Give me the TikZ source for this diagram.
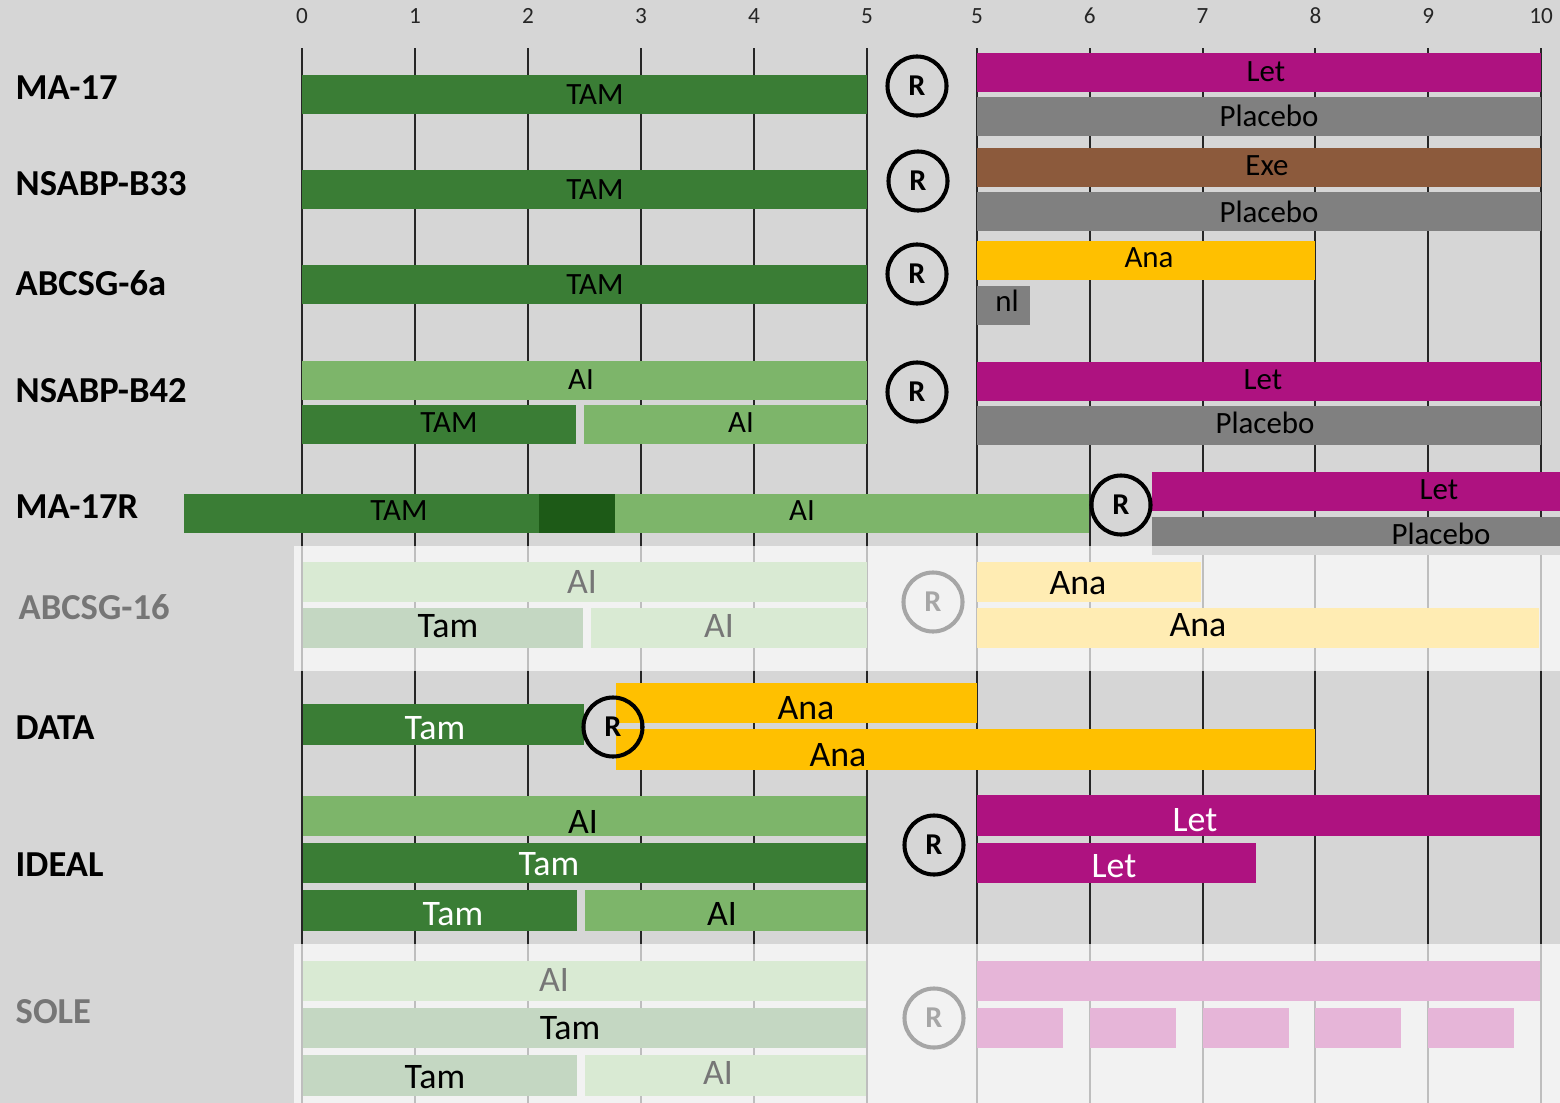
\documentclass[tikz,border=0pt]{standalone}
\usepackage{fontspec}
\setmainfont{Carlito}
\usepackage{tikz}
\definecolor{panelgrey}{HTML}{D6D6D6}
\definecolor{gridline}{HTML}{262626}
\definecolor{tamgreen}{HTML}{3A7D35}
\definecolor{aigreen}{HTML}{7DB56A}
\definecolor{overlapgreen}{HTML}{1D5A17}
\definecolor{letpink}{HTML}{AE1280}
\definecolor{placebogrey}{HTML}{808080}
\definecolor{exebrown}{HTML}{8C5A3C}
\definecolor{anayellow}{HTML}{FFC000}
\definecolor{fadeai}{HTML}{D9EAD3}
\definecolor{fadetam}{HTML}{C4D7C2}
\definecolor{fadeana}{HTML}{FFECB3}
\definecolor{fadelet}{HTML}{E6B5D8}
\definecolor{fadetext}{HTML}{767676}
\definecolor{fadering}{HTML}{A6A6A6}
\tikzset{trial/.style = {anchor = west, inner sep = 0pt, font = \bfseries\fontsize{10.4}{12}\selectfont}}
\tikzset{small/.style = {inner sep = 0pt, font = \fontsize{8.8}{10}\selectfont}}
\tikzset{big/.style = {inner sep = 0pt, font = \fontsize{10.2}{12}\selectfont}}
\tikzset{tick/.style = {inner sep = 0pt, text = gridline, font = \fontsize{6.6}{8}\selectfont}}
\tikzset{rand/.style = {shape = circle, draw, line width = 1.15pt, minimum size = 0.59cm, inner sep = 0pt, font = \bfseries\fontsize{8.6}{10}\selectfont}}
\tikzset{grid/.style = {draw = gridline, line width = 0.6pt}}
\tikzset{band/.style = {fill = white, opacity = 0.7}}

\begin{document}
\begin{tikzpicture}[x = 0.01cm, y = -0.01cm]
			\fill[panelgrey] (0, 0) rectangle (1560, 1103);
			\useasboundingbox (0, 0) rectangle (1560, 1103);

			% time axes
			\foreach \t in {0, ..., 5} {
				\draw[grid] ({302 + 113*\t}, 48) -- ({302 + 113*\t}, 1103);
				\node[tick] (left\t) at ({302 + 113*\t}, 16) {\t};
			}
			\foreach \t in {5, ..., 10} {
				\draw[grid] ({977 + 112.8*(\t - 5)}, 48) -- ({977 + 112.8*(\t - 5)}, 1103);
				\node[tick] (right\t) at ({977 + 112.8*(\t - 5)}, 16) {\t};
			}

			% MA-17
			\fill[tamgreen] (302, 75) rectangle (867, 114);
			\fill[letpink] (977, 53) rectangle (1541, 92);
			\fill[placebogrey] (977, 97) rectangle (1541, 136);
			\node[trial] (ma17) at (15, 88) {MA-17};
			\node[small] (ma17tam) at (595, 95) {TAM};
			\node[rand] (ma17r) at (917, 86) {R};
			\node[small] (ma17let) at (1266, 72) {Let};
			\node[small] (ma17pla) at (1269, 116) {Placebo};

			% NSABP-B33
			\fill[tamgreen] (302, 170) rectangle (867, 209);
			\fill[exebrown] (977, 148) rectangle (1541, 187);
			\fill[placebogrey] (977, 192) rectangle (1541, 231);
			\node[trial] (b33) at (15, 184) {NSABP-B33};
			\node[small] (b33tam) at (595, 190) {TAM};
			\node[rand] (b33r) at (918, 181) {R};
			\node[small] (b33exe) at (1267, 166) {Exe};
			\node[small] (b33pla) at (1269, 212) {Placebo};

			% ABCSG-6a
			\fill[tamgreen] (302, 265) rectangle (867, 304);
			\fill[anayellow] (977, 241) rectangle (1315, 280);
			\fill[placebogrey] (977, 286) rectangle (1030, 325);
			\node[trial] (a6) at (15, 283) {ABCSG-6a};
			\node[small] (a6tam) at (595, 285) {TAM};
			\node[rand] (a6r) at (917, 274) {R};
			\node[small] (a6ana) at (1149, 258) {Ana};
			\node[small] (a6nl) at (1007, 301) {nl};

			% NSABP-B42
			\fill[aigreen] (302, 361) rectangle (867, 400);
			\fill[tamgreen] (302, 405) rectangle (576, 444);
			\fill[aigreen] (584, 405) rectangle (867, 444);
			\fill[letpink] (977, 362) rectangle (1541, 401);
			\fill[placebogrey] (977, 406) rectangle (1541, 445);
			\node[trial] (b42) at (15, 391) {NSABP-B42};
			\node[small] (b42ai) at (581, 380) {AI};
			\node[small] (b42tam) at (449, 423) {TAM};
			\node[small] (b42aib) at (741, 423) {AI};
			\node[rand] (b42r) at (917, 392) {R};
			\node[small] (b42let) at (1263, 380) {Let};
			\node[small] (b42pla) at (1265, 423) {Placebo};

			% MA-17R
			\fill[tamgreen] (184, 494) rectangle (539, 533);
			\fill[overlapgreen] (539, 494) rectangle (615, 533);
			\fill[aigreen] (615, 494) rectangle (1089, 533);
			\fill[letpink] (1152, 472) rectangle (1560, 511);
			\fill[placebogrey] (1152, 517) rectangle (1560, 555);
			\node[trial] (ma17r) at (15, 507) {MA-17R};
			\node[small] (m17rtam) at (399, 511) {TAM};
			\node[small] (m17rai) at (802, 511) {AI};
			\node[rand] (m17rr) at (1121, 505) {R};
			\node[small] (m17rlet) at (1439, 490) {Let};
			\node[small] (m17rpla) at (1441, 534) {Placebo};

			% ABCSG-16 (faded)
			\fill[band] (294, 546) rectangle (1560, 671);
			\fill[fadeai] (303, 562) rectangle (867, 602);
			\fill[fadetam] (303, 608) rectangle (583, 648);
			\fill[fadeai] (591, 608) rectangle (867, 648);
			\fill[fadeana] (977, 562) rectangle (1201, 602);
			\fill[fadeana] (977, 608) rectangle (1539, 648);
			\node[trial, text = fadetext] (a16) at (18, 607) {ABCSG-16};
			\node[big, text = fadetext] (a16ai) at (582, 582) {AI};
			\node[big] (a16tam) at (448, 626) {Tam};
			\node[big, text = fadetext] (a16aib) at (719, 626) {AI};
			\node[rand, draw = fadering, text = fadering] (a16r) at (933, 602) {R};
			\node[big] (a16ana) at (1078, 583) {Ana};
			\node[big] (a16anab) at (1198, 625) {Ana};

			% DATA
			\fill[tamgreen] (303, 704) rectangle (584, 745);
			\fill[anayellow] (616, 683) rectangle (977, 723);
			\fill[anayellow] (616, 729) rectangle (1315, 770);
			\node[trial] (data) at (15, 728) {DATA};
			\node[big, text = white] (datatam) at (435, 728) {Tam};
			\node[rand] (datar) at (613, 727) {R};
			\node[big] (dataana) at (806, 708) {Ana};
			\node[big] (dataanab) at (838, 755) {Ana};

			% IDEAL
			\fill[aigreen] (303, 796) rectangle (866, 836);
			\fill[tamgreen] (303, 843) rectangle (866, 883);
			\fill[tamgreen] (303, 890) rectangle (577, 931);
			\fill[aigreen] (585, 890) rectangle (866, 931);
			\fill[letpink] (977, 795) rectangle (1540, 836);
			\fill[letpink] (977, 843) rectangle (1256, 883);
			\node[trial] (ideal) at (15, 865) {IDEAL};
			\node[big] (idealai) at (583, 822) {AI};
			\node[big, text = white] (idealtam) at (549, 864) {Tam};
			\node[big, text = white] (idealtamb) at (453, 914) {Tam};
			\node[big] (idealaib) at (722, 914) {AI};
			\node[rand] (idealr) at (934, 845) {R};
			\node[big, text = white] (ideallet) at (1195, 820) {Let};
			\node[big, text = white] (ideallets) at (1114, 866) {Let};

			% SOLE (faded)
			\fill[band] (294, 944) rectangle (1560, 1103);
			\fill[fadeai] (303, 961) rectangle (866, 1001);
			\fill[fadetam] (303, 1008) rectangle (866, 1048);
			\fill[fadetam] (303, 1055) rectangle (577, 1096);
			\fill[fadeai] (585, 1055) rectangle (866, 1096);
			\fill[fadelet] (977, 961) rectangle (1540, 1001);
			\foreach \k in {0, ..., 4}
				\fill[fadelet] ({977 + 112.8*\k}, 1008) rectangle ({1063 + 112.8*\k}, 1048);
			\node[trial, text = fadetext] (sole) at (15, 1012) {SOLE};
			\node[big, text = fadetext] (soleai) at (554, 980) {AI};
			\node[big] (soletam) at (570, 1028) {Tam};
			\node[big] (soletamb) at (435, 1077) {Tam};
			\node[big, text = fadetext] (soleaib) at (718, 1073) {AI};
			\node[rand, draw = fadering, text = fadering] (soler) at (934, 1018) {R};
		\end{tikzpicture}
\end{document}
